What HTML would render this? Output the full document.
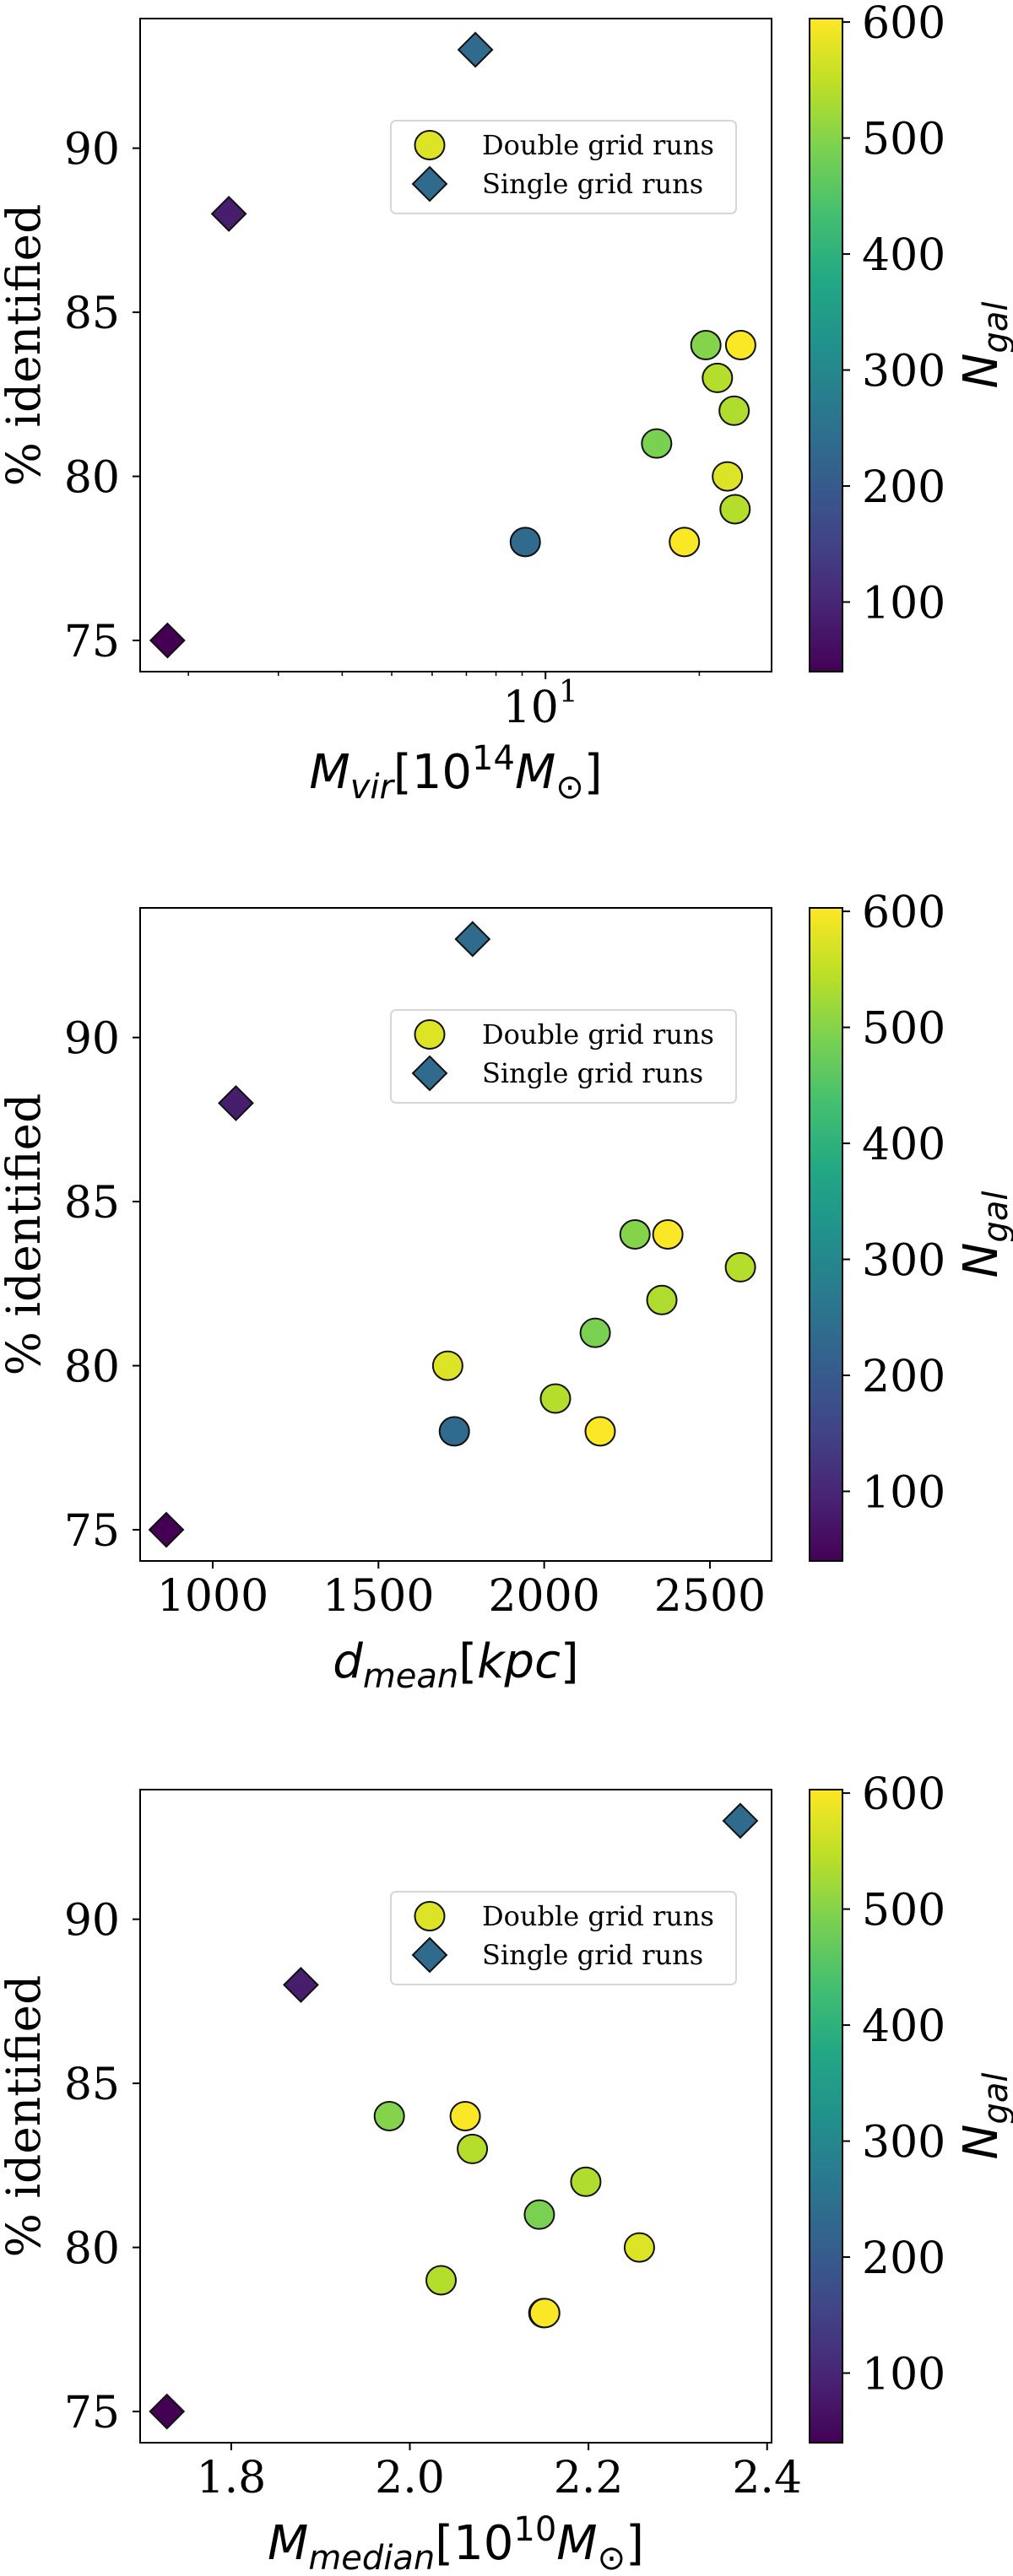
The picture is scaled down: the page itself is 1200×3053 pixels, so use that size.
<!DOCTYPE html>
<html><head><meta charset="utf-8">
<style>
html,body{margin:0;padding:0;background:#fff;}
svg{display:block;}
.tk{font-family:"DejaVu Serif","Liberation Serif",serif;font-size:52px;fill:#000;}
.lg{font-family:"DejaVu Serif","Liberation Serif",serif;font-size:32px;fill:#000;}
.ml{font-family:"DejaVu Sans","Liberation Sans",sans-serif;font-size:56px;fill:#000;}
</style></head>
<body>
<svg id="fig" width="1200" height="3053" viewBox="0 0 1200 3053" xmlns="http://www.w3.org/2000/svg">
<defs>
<linearGradient id="vir" x1="0" y1="1" x2="0" y2="0">
<stop offset="0" stop-color="#440154"/><stop offset="0.1" stop-color="#482475"/><stop offset="0.2" stop-color="#414487"/><stop offset="0.3" stop-color="#355f8d"/><stop offset="0.4" stop-color="#2a788e"/><stop offset="0.5" stop-color="#21918c"/><stop offset="0.6" stop-color="#22a884"/><stop offset="0.7" stop-color="#44bf70"/><stop offset="0.8" stop-color="#7ad151"/><stop offset="0.9" stop-color="#bddf26"/><stop offset="1" stop-color="#fde725"/>
</linearGradient>
</defs>
</svg>
<script>
// Double grid runs (circles)
const pctDouble = [80, 84, 84, 83, 82, 81, 79, 78, 78];
const ngalDouble = [575, 500, 600, 540, 535, 490, 540, 235, 600];
const mvirDouble = [22.7, 20.6, 24.1, 21.7, 23.4, 16.5, 23.5, 9.13, 18.7];
const dmeanDouble = [1709, 2274, 2373, 2592, 2355, 2154, 2034, 1729, 2169];
const mmedDouble = [2.257, 1.977, 2.062, 2.070, 2.197, 2.145, 2.035, 2.15, 2.151];
// Single grid runs (diamonds)
const pctSingle = [93, 88, 75];
const ngalSingle = [237, 85, 40];
const mvirSingle = [7.29, 2.40, 1.82];
const dmeanSingle = [1784, 1070, 860];
const mmedSingle = [2.370, 1.878, 1.728];
// Axis ticks
const yTicks = [75, 80, 85, 90];
const cbTicks = [100, 200, 300, 400, 500, 600];
const dTicks = [1000, 1500, 2000, 2500];
const mmTicks = [1.8, 2.0, 2.2, 2.4];
const cbMin = 40, cbMax = 603;

const NS = "http://www.w3.org/2000/svg";
const svg = document.getElementById('fig');
const VIR = ["#440154","#482475","#414487","#355f8d","#2a788e","#21918c","#22a884","#44bf70","#7ad151","#bddf26","#fde725"];
function hex(c){return [parseInt(c.substr(1,2),16),parseInt(c.substr(3,2),16),parseInt(c.substr(5,2),16)];}
function viridis(v){
  let t=Math.max(0,Math.min(1,(v-cbMin)/(cbMax-cbMin)))*10;
  let i=Math.min(9,Math.floor(t)),f=t-i;
  const a=hex(VIR[i]),b=hex(VIR[i+1]);
  return 'rgb('+a.map((x,k)=>Math.round(x+(b[k]-x)*f)).join(',')+')';
}
function el(tag,attrs,parent){
  const e=document.createElementNS(NS,tag);
  for(const k in attrs)e.setAttribute(k,attrs[k]);
  (parent||svg).appendChild(e);return e;
}
const L=166,R=914,H=774,yMin=74.05,yMax=93.95;
const panels=[
 {top:22,name:'mvir',log:true,dom:[1.609,27.7],xd:mvirDouble,xs:mvirSingle},
 {top:1076,name:'dmean',log:false,dom:[781,2686],xd:dmeanDouble,xs:dmeanSingle,ticks:dTicks,fmt:v=>String(v)},
 {top:2121,name:'mmedian',log:false,dom:[1.698,2.405],xd:mmedDouble,xs:mmedSingle,ticks:mmTicks,fmt:v=>v.toFixed(1)}
];
panels.forEach((p,pi)=>{
  const g=el('g',{});
  
  
  const T=p.top,B=T+H;
  const sx=v=>p.log? L+(Math.log10(v)-Math.log10(p.dom[0]))/(Math.log10(p.dom[1])-Math.log10(p.dom[0]))*(R-L)
                    : L+(v-p.dom[0])/(p.dom[1]-p.dom[0])*(R-L);
  const sy=v=>B-(v-yMin)/(yMax-yMin)*H;
  // y ticks
  yTicks.forEach(v=>{
    const y=sy(v);
    const tl=el('line',{x1:L-9,x2:L,y1:y,y2:y,stroke:'#000','stroke-width':2},g);
    
    
    const t=el('text',{x:L-24,y:y+19,'text-anchor':'end',class:'tk'},g);
    
    
    t.textContent=v;
  });
  // x ticks
  if(p.log){
    for(let m=2;m<=20;m++){
      let v=m<=10?m:(m%10===0?m:null); if(v===null)continue;
      const x=sx(v); if(x<L||x>R)continue;
      const major=(v===10);
      const tl=el('line',{x1:x,x2:x,y1:B,y2:B+(major?9:5),stroke:'#000','stroke-width':major?2:1.5},g);
      
      
      if(major){
        const t=el('text',{x:x-6,y:B+60,'text-anchor':'middle',class:'tk'},g);
        
        
        t.innerHTML='10<tspan dy="-24" font-size="36">1</tspan>';
      }
    }
  } else {
    p.ticks.forEach(v=>{
      const x=sx(v);
      const tl=el('line',{x1:x,x2:x,y1:B,y2:B+9,stroke:'#000','stroke-width':2},g);
      
      
      const t=el('text',{x:x,y:B+59,'text-anchor':'middle',class:'tk'},g);
      
      
      t.textContent=p.fmt(v);
    });
  }
  // axes frame
  const fr=el('rect',{x:L,y:T,width:R-L,height:H,fill:'none',stroke:'#000','stroke-width':2},g);
  
  
  // points: double grid circles
  p.xd.forEach((xv,i)=>{
    const c=el('ellipse',{cx:sx(xv),cy:sy(pctDouble[i]),rx:17.5,ry:17,fill:viridis(ngalDouble[i]),stroke:'#111','stroke-width':2},g);
    
    
  });
  p.xs.forEach((xv,i)=>{
    const cx=sx(xv),cy=sy(pctSingle[i]);
    const d=el('polygon',{points:`${cx},${cy-20} ${cx+20},${cy} ${cx},${cy+20} ${cx-20},${cy}`,fill:viridis(ngalSingle[i]),stroke:'#111','stroke-width':2},g);
    
    
  });
  // legend
  const lg=el('g',{},g);
  
  
  el('rect',{x:463,y:T+121,width:409,height:110,rx:6,fill:'#fff','fill-opacity':0.8,stroke:'#d6d6d6','stroke-width':2},lg);
  const lc=el('ellipse',{cx:509,cy:T+150,rx:17.5,ry:17,fill:viridis(ngalDouble[0]),stroke:'#111','stroke-width':2},lg);
  
  
  const r2=T+196;
  const ld=el('polygon',{points:`509,${r2-20} 529,${r2} 509,${r2+20} 489,${r2}`,fill:viridis(ngalSingle[0]),stroke:'#111','stroke-width':2},lg);
  
  
  const t1=el('text',{x:571,y:T+161,class:'lg'},lg);
  
  
  t1.textContent='Double grid runs';
  const t2=el('text',{x:571,y:T+207,class:'lg'},lg);
  
  
  t2.textContent='Single grid runs';
  // y label
  const yl=el('text',{x:0,y:0,transform:`translate(47,${T+H/2}) rotate(-90)`,'text-anchor':'middle',class:'tk','font-size':'55'},g);
  
  
  yl.setAttribute('style','font-size:55px');
  yl.textContent='% identified';
  // x label
  const xl=el('text',{x:(L+R)/2,y:B+138,'text-anchor':'middle',class:'ml'},g);
  
  
  if(pi===0) xl.innerHTML='<tspan font-style="italic">M</tspan><tspan font-style="italic" font-size="40" dy="12">vir</tspan><tspan dy="-12">[10</tspan><tspan font-size="40" dy="-22">14</tspan><tspan font-style="italic" dy="22">M</tspan><tspan font-size="40" dy="12">⊙</tspan><tspan dy="-12">]</tspan>';
  else if(pi===1) xl.innerHTML='<tspan font-style="italic">d</tspan><tspan font-style="italic" font-size="40" dy="12">mean</tspan><tspan dy="-12">[</tspan><tspan font-style="italic">kpc</tspan>]';
  else xl.innerHTML='<tspan font-style="italic">M</tspan><tspan font-style="italic" font-size="40" dy="12">median</tspan><tspan dy="-12">[10</tspan><tspan font-size="40" dy="-22">10</tspan><tspan font-style="italic" dy="22">M</tspan><tspan font-size="40" dy="12">⊙</tspan><tspan dy="-12">]</tspan>';
  // colorbar
  const cb=el('g',{},g);
  
  
  el('rect',{x:959,y:T,width:39,height:H,fill:'url(#vir)',stroke:'#000','stroke-width':2},cb);
  const cy=v=>B-(v-cbMin)/(cbMax-cbMin)*H;
  cbTicks.forEach(v=>{
    const y=cy(v);
    const tl=el('line',{x1:998,x2:1007,y1:y,y2:y,stroke:'#000','stroke-width':2},cb);
    
    
    const t=el('text',{x:1021,y:y+19,class:'tk'},cb);
    
    
    t.textContent=v;
  });
  const ct=el('text',{x:0,y:0,transform:`translate(1181,${T+H/2}) rotate(-90)`,'text-anchor':'middle',class:'ml'},cb);
  
  
  ct.innerHTML='<tspan font-style="italic">N</tspan><tspan font-style="italic" font-size="40" dy="12">gal</tspan>';
});
</script>
</body></html>
